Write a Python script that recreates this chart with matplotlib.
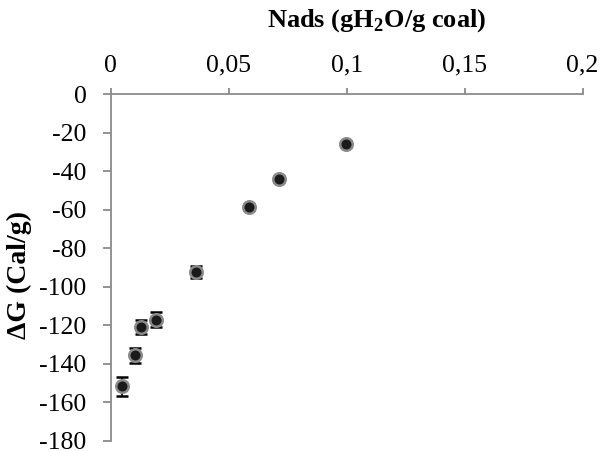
import matplotlib.pyplot as plt
import matplotlib as mpl
from matplotlib.ticker import FuncFormatter

mpl.rcParams['font.family'] = 'Liberation Serif'
mpl.rcParams['mathtext.fontset'] = 'custom'
mpl.rcParams['mathtext.rm'] = 'Liberation Serif:bold'
mpl.rcParams['mathtext.bf'] = 'Liberation Serif:bold'
mpl.rcParams['axes.unicode_minus'] = False

# Data
nads = [0.0047, 0.0103, 0.0130, 0.0192, 0.0360, 0.0586, 0.0715, 0.0996]
dG = [-151.7, -135.5, -121.0, -117.0, -92.2, -58.6, -44.1, -25.8]
err = [4.7, 4.0, 3.7, 3.8, 3.1, 1.5, 1.5, 1.5]

xticks = [0, 0.05, 0.1, 0.15, 0.2]
yticks = list(range(0, -181, -20))

fig = plt.figure(figsize=(6.05, 4.51), dpi=100)
ax = fig.add_axes([0.183, 0.0222, 0.963 - 0.183, 0.791 - 0.0222])

ax.errorbar(nads, dG, yerr=err, fmt='o', color='#1a1a1a', ecolor='black',
            elinewidth=1.2, capsize=4.3, capthick=1.6,
            markersize=9, markerfacecolor='#1a1a1a',
            markeredgecolor='#8a8a8a', markeredgewidth=1.8, zorder=3)

ax.set_xlim(0, 0.2)
ax.set_ylim(-180, 0)
ax.set_xticks(xticks)
ax.set_yticks(yticks)
ax.xaxis.set_major_formatter(FuncFormatter(lambda v, p: ('%g' % v).replace('.', ',')))

ax.xaxis.tick_top()
ax.xaxis.set_label_position('top')
ax.spines['right'].set_visible(False)
ax.spines['bottom'].set_visible(False)
for s in ['top', 'left']:
    ax.spines[s].set_color('#8a8a8a')
    ax.spines[s].set_linewidth(1.3)
ax.tick_params(axis='both', direction='out', color='#8a8a8a', width=1.3,
               labelsize=18.5, labelcolor='black')
ax.tick_params(axis='x', length=4.5, pad=8)
ax.tick_params(axis='y', length=5.8, pad=11.5)

ax.set_xlabel(r'Nads (gH$_{2}$O/g coal)', fontsize=19, fontweight='bold', va='center')
ax.xaxis.set_label_coords(0.564, 1.213)
ax.set_ylabel('ΔG (Cal/g)', fontsize=20, fontweight='bold', va='center')
ax.yaxis.set_label_coords(-0.193, 0.48)

fig.savefig('out.png', dpi=100)
